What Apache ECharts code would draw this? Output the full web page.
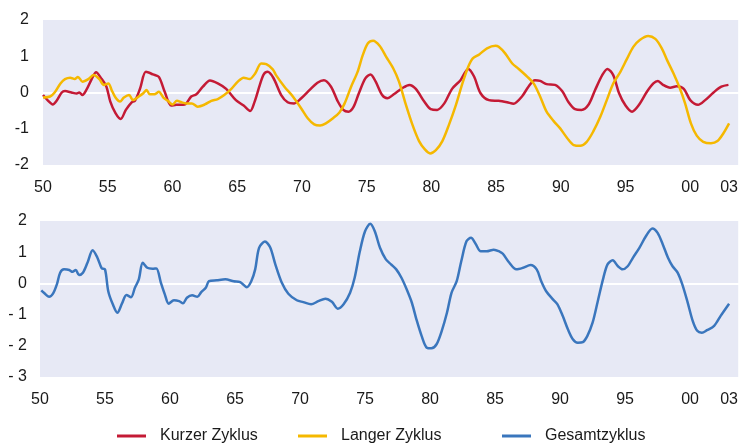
<!DOCTYPE html>
<html>
<head>
<meta charset="utf-8">
<script src="https://cdn.jsdelivr.net/npm/echarts@6/dist/echarts.min.js"></script>
<style>
  html, body { margin: 0; padding: 0; background: #fff; }
  #chart { width: 741px; height: 446px; }
</style>
</head>
<body>
<div id="chart"></div>
<script>
var myChart = echarts.init(document.getElementById('chart'));

// Jahre (x) und Werte (y)
var kurzYears = [1950.0, 1950.4, 1950.75, 1951.05, 1951.45, 1951.7, 1952.2, 1952.6, 1952.8, 1953.05,
  1953.35, 1953.75, 1954.1, 1954.5, 1954.9, 1955.2, 1955.6, 1956.0, 1956.4, 1956.85,
  1957.1, 1957.5, 1957.95, 1958.5, 1958.95, 1959.4, 1959.9, 1960.3, 1960.95, 1961.45,
  1961.85, 1962.35, 1962.9, 1963.5, 1964.15, 1964.9, 1965.5, 1966.0, 1966.35, 1966.75,
  1967.05, 1967.35, 1967.8, 1968.4, 1968.9, 1969.4, 1969.95, 1970.6, 1971.2, 1971.7,
  1972.25, 1972.75, 1973.2, 1973.6, 1974.0, 1974.4, 1974.9, 1975.3, 1975.7, 1976.2,
  1976.6, 1977.1, 1977.8, 1978.3, 1978.8, 1979.45, 1979.95, 1980.45, 1981.0, 1981.6,
  1982.25, 1982.85, 1983.3, 1983.8, 1984.45, 1985.2, 1985.85, 1986.35, 1987.0, 1987.5,
  1988.0, 1988.4, 1988.9, 1989.55, 1990.1, 1990.6, 1991.1, 1991.6, 1992.15, 1992.65,
  1993.2, 1993.6, 1994.05, 1994.5, 1995.0, 1995.5, 1996.0, 1996.65, 1997.15, 1997.5,
  1997.9, 1998.45, 1998.95, 1999.5, 2000.0, 2000.6, 2001.15, 2001.8, 2002.4, 2002.95];
var kurzValues = [-0.07, -0.23, -0.33, -0.23, 0.0, 0.04, 0.0, -0.03, 0.0, -0.07,
  0.07, 0.36, 0.56, 0.39, 0.16, -0.25, -0.57, -0.73, -0.48, -0.27,
  -0.23, 0.11, 0.57, 0.50, 0.43, 0.02, -0.36, -0.34, -0.33, -0.11,
  -0.05, 0.16, 0.33, 0.25, 0.10, -0.21, -0.36, -0.51, -0.25, 0.21,
  0.50, 0.57, 0.40, -0.07, -0.27, -0.30, -0.16, 0.07, 0.27, 0.34,
  0.16, -0.23, -0.48, -0.53, -0.39, -0.02, 0.39, 0.50, 0.30, -0.07,
  -0.16, -0.05, 0.13, 0.21, 0.10, -0.25, -0.46, -0.48, -0.30, 0.10,
  0.34, 0.65, 0.44, -0.02, -0.21, -0.23, -0.27, -0.31, -0.11, 0.16,
  0.34, 0.32, 0.23, 0.21, 0.04, -0.27, -0.46, -0.48, -0.33, 0.07,
  0.48, 0.65, 0.48, -0.02, -0.36, -0.53, -0.36, 0.02, 0.25, 0.32,
  0.21, 0.13, 0.17, 0.10, -0.21, -0.34, -0.21, 0.0, 0.16, 0.21];

var langYears = [1950.0, 1950.55, 1950.9, 1951.35, 1951.7, 1952.1, 1952.45, 1952.7, 1953.05, 1953.5,
  1953.9, 1954.35, 1954.7, 1955.05, 1955.3, 1955.6, 1955.95, 1956.25, 1956.65, 1956.95,
  1957.4, 1957.75, 1958.0, 1958.25, 1958.6, 1958.95, 1959.3, 1959.65, 1960.0, 1960.35,
  1960.7, 1961.05, 1961.5, 1961.95, 1962.5, 1963.0, 1963.5, 1964.0, 1964.55, 1965.05,
  1965.5, 1965.95, 1966.4, 1966.85, 1967.25, 1967.75, 1968.0, 1968.65, 1969.3, 1969.95,
  1970.45, 1970.95, 1971.4, 1971.85, 1972.4, 1972.9, 1973.3, 1973.8, 1974.3, 1974.7,
  1975.1, 1975.5, 1976.0, 1976.5, 1977.05, 1977.5, 1978.0, 1978.55, 1979.05, 1979.5,
  1979.9, 1980.35, 1980.85, 1981.35, 1981.9, 1982.4, 1982.85, 1983.2, 1983.7, 1984.3,
  1984.95, 1985.2, 1985.7, 1986.25, 1986.75, 1987.4, 1987.9, 1988.4, 1988.9, 1989.45,
  1989.95, 1990.5, 1991.0, 1991.5, 1992.0, 1992.5, 1993.05, 1993.55, 1994.05, 1994.6,
  1995.1, 1995.6, 1996.1, 1996.75, 1997.3, 1997.8, 1998.2, 1998.7, 1999.2, 1999.6,
  2000.05, 2000.5, 2001.0, 2001.6, 2002.1, 2002.55, 2003.0];
var langValues = [-0.14, -0.11, 0.0, 0.25, 0.37, 0.41, 0.37, 0.43, 0.30, 0.37,
  0.48, 0.37, 0.21, 0.25, 0.07, -0.14, -0.25, -0.14, -0.07, -0.21,
  -0.11, -0.02, 0.07, -0.05, -0.05, 0.02, -0.14, -0.23, -0.33, -0.23,
  -0.27, -0.30, -0.30, -0.39, -0.33, -0.23, -0.18, -0.07, 0.10, 0.30,
  0.41, 0.37, 0.53, 0.80, 0.78, 0.64, 0.48, 0.16, -0.11, -0.44,
  -0.71, -0.88, -0.91, -0.85, -0.71, -0.55, -0.30, 0.16, 0.57, 1.03,
  1.36, 1.43, 1.29, 0.99, 0.67, 0.30, -0.30, -0.90, -1.34, -1.57,
  -1.68, -1.59, -1.34, -0.90, -0.34, 0.25, 0.71, 0.94, 1.05, 1.22,
  1.29, 1.26, 1.08, 0.80, 0.65, 0.44, 0.25, -0.11, -0.53, -0.79,
  -0.99, -1.26, -1.45, -1.47, -1.36, -1.08, -0.67, -0.21, 0.25, 0.57,
  0.92, 1.26, 1.45, 1.56, 1.48, 1.22, 0.90, 0.53, 0.11, -0.30,
  -0.85, -1.19, -1.36, -1.40, -1.34, -1.13, -0.85];

var gesamtYears = [1950.1, 1950.3, 1950.7, 1951.0, 1951.3, 1951.55, 1951.85, 1952.25, 1952.5, 1952.75,
  1953.0, 1953.3, 1953.65, 1954.05, 1954.4, 1954.75, 1955.0, 1955.25, 1955.6, 1955.95,
  1956.3, 1956.65, 1957.0, 1957.3, 1957.6, 1957.9, 1958.25, 1958.65, 1958.95, 1959.3,
  1959.6, 1959.9, 1960.3, 1960.7, 1961.0, 1961.3, 1961.7, 1962.1, 1962.4, 1962.75,
  1963.0, 1963.6, 1964.25, 1964.9, 1965.4, 1965.9, 1966.25, 1966.55, 1966.85, 1967.3,
  1967.7, 1968.1, 1968.6, 1969.1, 1969.75, 1970.25, 1970.85, 1971.4, 1971.95, 1972.45,
  1972.9, 1973.35, 1973.85, 1974.2, 1974.6, 1975.0, 1975.4, 1975.75, 1976.15, 1976.6,
  1977.0, 1977.4, 1977.8, 1978.2, 1978.6, 1978.95, 1979.35, 1979.75, 1980.1, 1980.5,
  1980.9, 1981.3, 1981.65, 1982.05, 1982.4, 1982.8, 1983.15, 1983.5, 1983.9, 1984.35,
  1984.9, 1985.35, 1985.6, 1986.1, 1986.63, 1987.15, 1987.73, 1988.2, 1988.55, 1988.93,
  1989.45, 1989.8, 1990.2, 1990.6, 1990.98, 1991.36, 1991.75, 1992.1, 1992.5, 1992.9,
  1993.3, 1993.65, 1994.05, 1994.45, 1994.8, 1995.2, 1995.6, 1996.1, 1996.6, 1997.1,
  1997.5, 1997.9, 1998.3, 1998.65, 1999.05, 1999.4, 1999.8, 2000.2, 2000.55, 2000.9,
  2001.3, 2001.85, 2002.35, 2003.0];
var gesamtValues = [-0.22, -0.30, -0.43, -0.33, -0.03, 0.34, 0.45, 0.43, 0.37, 0.43,
  0.27, 0.34, 0.66, 1.06, 0.84, 0.48, 0.45, -0.25, -0.67, -0.94,
  -0.65, -0.37, -0.44, -0.14, 0.13, 0.66, 0.50, 0.47, 0.48, 0.02,
  -0.35, -0.65, -0.54, -0.57, -0.64, -0.46, -0.38, -0.43, -0.28, -0.14,
  0.07, 0.10, 0.13, 0.07, 0.04, -0.12, 0.07, 0.45, 1.14, 1.34,
  1.16, 0.61, 0.02, -0.33, -0.54, -0.60, -0.67, -0.57, -0.49, -0.59,
  -0.81, -0.67, -0.30, 0.18, 1.03, 1.67, 1.91, 1.67, 1.14, 0.77,
  0.61, 0.45, 0.18, -0.19, -0.62, -1.15, -1.68, -2.06, -2.08, -1.95,
  -1.52, -0.94, -0.30, 0.07, 0.71, 1.35, 1.46, 1.27, 1.03, 1.03,
  1.08, 1.02, 0.95, 0.66, 0.45, 0.50, 0.59, 0.45, 0.07, -0.25,
  -0.51, -0.67, -1.04, -1.47, -1.79, -1.90, -1.88, -1.68, -1.26, -0.57,
  0.13, 0.61, 0.74, 0.55, 0.45, 0.55, 0.82, 1.14, 1.51, 1.76,
  1.62, 1.25, 0.82, 0.55, 0.34, -0.03, -0.59, -1.20, -1.52, -1.58,
  -1.50, -1.36, -1.04, -0.65];

var tickYears = [1950, 1955, 1960, 1965, 1970, 1975, 1980, 1985, 1990, 1995, 2000, 2003];

function pairs(xs, ys) {
    return xs.map(function (x, i) { return [x, ys[i]]; });
}

var textColor = '#1a1a1a';
var fontFam = "'Liberation Sans', Arial, sans-serif";
var plotBg = '#E7E9F5';

function xAxisFor(gridIndex) {
    return {
        type: 'value',
        gridIndex: gridIndex,
        min: 1950,
        max: 2003.7,
        axisLine: { show: true, onZero: true, lineStyle: { color: '#ffffff', width: 2 } },
        axisTick: { show: false },
        splitLine: { show: false },
        axisLabel: {
            customValues: tickYears,
            margin: 15,
            color: textColor,
            fontSize: 16,
            fontFamily: fontFam,
            formatter: function (v) { return String(v % 100).padStart(2, '0'); }
        }
    };
}

var option = {
    animation: false,
    backgroundColor: '#ffffff',
    grid: [
        { left: 43, right: 1, top: 20, height: 145, show: true, backgroundColor: plotBg, borderWidth: 0 },
        { left: 40, right: 0, top: 221, height: 156, show: true, backgroundColor: plotBg, borderWidth: 0 }
    ],
    xAxis: [xAxisFor(0), xAxisFor(1)],
    yAxis: [
        {
            type: 'value', gridIndex: 0, min: -2, max: 2, interval: 1,
            axisLine: { show: false }, axisTick: { show: false }, splitLine: { show: false },
            axisLabel: { margin: 14, color: textColor, fontSize: 16, fontFamily: fontFam }
        },
        {
            type: 'value', gridIndex: 1, min: -3, max: 2, interval: 1,
            axisLine: { show: false }, axisTick: { show: false }, splitLine: { show: false },
            axisLabel: {
                margin: 13, color: textColor, fontSize: 16, fontFamily: fontFam,
                formatter: function (v) { return v < 0 ? '- ' + Math.abs(v) : String(v); }
            }
        }
    ],
    legend: [
        { data: ['Kurzer Zyklus'], left: 117, top: 428 },
        { data: ['Langer Zyklus'], left: 298, top: 428 },
        { data: ['Gesamtzyklus'], left: 502, top: 428 }
    ].map(function (l) {
        l.icon = 'rect';
        l.padding = 0;
        l.itemWidth = 29;
        l.itemHeight = 3;
        l.selectedMode = false;
        l.textStyle = { color: textColor, fontSize: 16, fontFamily: fontFam, padding: [0, 0, 0, 9] };
        return l;
    }),
    series: [
        {
            name: 'Kurzer Zyklus', type: 'line', xAxisIndex: 0, yAxisIndex: 0,
            data: pairs(kurzYears, kurzValues), showSymbol: false, smooth: 0.3,
            lineStyle: { color: '#C41A35', width: 2.5 }, itemStyle: { color: '#C41A35' }
        },
        {
            name: 'Langer Zyklus', type: 'line', xAxisIndex: 0, yAxisIndex: 0,
            data: pairs(langYears, langValues), showSymbol: false, smooth: 0.3,
            lineStyle: { color: '#F5B800', width: 2.5 }, itemStyle: { color: '#F5B800' }
        },
        {
            name: 'Gesamtzyklus', type: 'line', xAxisIndex: 1, yAxisIndex: 1,
            data: pairs(gesamtYears, gesamtValues), showSymbol: false, smooth: 0.3,
            lineStyle: { color: '#3A76BD', width: 2.5 }, itemStyle: { color: '#3A76BD' }
        }
    ]
};

myChart.setOption(option);
</script>
</body>
</html>
